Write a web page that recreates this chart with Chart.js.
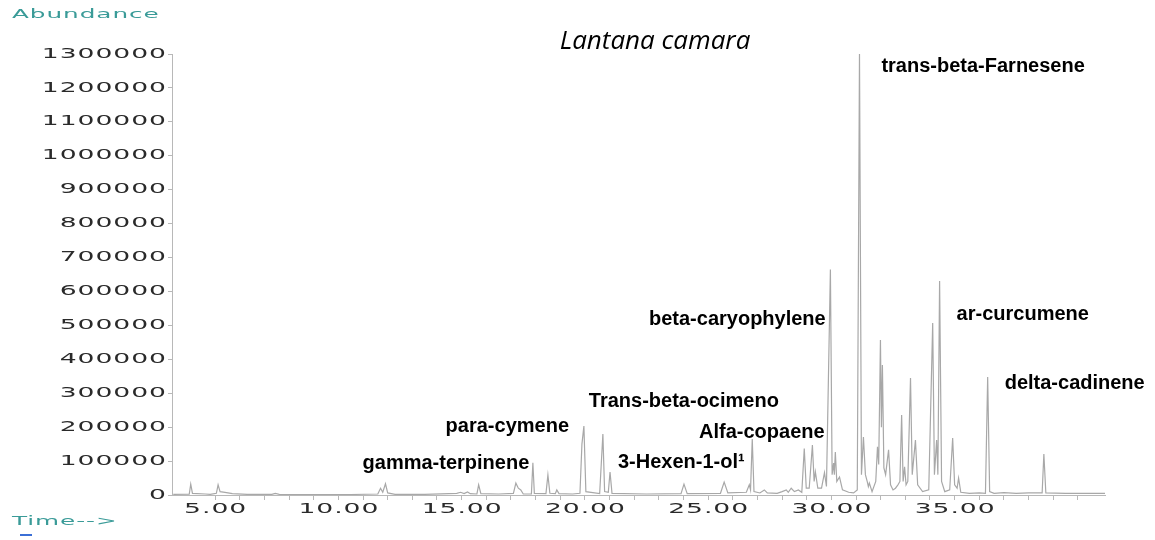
<!DOCTYPE html>
<html>
<head>
<meta charset="utf-8">
<script src="https://cdn.jsdelivr.net/npm/chart.js@4"></script>
<style>
  body { margin: 0; background: #fff; }
  canvas { display: block; }
</style>
</head>
<body>
<canvas id="tic" width="1155" height="540"></canvas>
<script>
// retention time (min) and abundance
const times = [3.3, 3.95, 4.01, 4.08, 4.6, 4.8, 5.05, 5.12, 5.2, 5.4, 5.7, 6.3, 7.3, 7.44, 7.6, 9.0, 10.5,
  11.6, 11.71, 11.8, 11.91, 12.0, 12.3, 13.5, 14.8, 14.96, 15.1, 15.24, 15.35, 15.62, 15.69, 15.78, 16.5,
  17.1, 17.2, 17.3, 17.4, 17.5, 17.83, 17.89, 17.95, 18.42, 18.5, 18.58, 18.8, 18.86, 18.95, 19.5, 19.8,
  19.88, 19.96, 20.04, 20.6, 20.73, 20.8, 20.95, 21.02, 21.1, 22.5, 23.9, 24.02, 24.15, 25.5, 25.65, 25.8,
  26.55, 26.67, 26.72, 26.79, 26.86, 27.1, 27.28, 27.4, 27.8, 28.0, 28.17, 28.25, 28.37, 28.5, 28.66, 28.8,
  28.9, 28.98, 29.1, 29.23, 29.3, 29.35, 29.45, 29.6, 29.72, 29.8, 29.96, 30.03, 30.09, 30.12, 30.16, 30.22,
  30.33, 30.45, 30.7, 30.9, 31.05, 31.14, 31.22, 31.3, 31.38, 31.46, 31.5, 31.54, 31.65, 31.8, 31.87, 31.92,
  31.99, 32.03, 32.07, 32.13, 32.2, 32.32, 32.4, 32.5, 32.6, 32.7, 32.78, 32.85, 32.91, 32.97, 33.03, 33.1,
  33.21, 33.28, 33.41, 33.5, 33.7, 33.95, 34.11, 34.18, 34.27, 34.32, 34.39, 34.47, 34.6, 34.8, 34.92, 35.0,
  35.1, 35.16, 35.25, 35.6, 36.0, 36.25, 36.34, 36.42, 36.6, 37.0, 37.5, 38.0, 38.55, 38.62, 38.7, 39.5,
  40.5, 41.1];
const abundance = [2000, 2500, 32000, 5000, 3000, 2000, 5000, 30000, 10000, 8000, 4000, 2000, 2000, 5000, 2000, 1500, 1500,
  3000, 20000, 8000, 33000, 6000, 2000, 2000, 5000, 8000, 4000, 9000, 4000, 3000, 30000, 4000, 3000,
  5000, 35000, 20000, 15000, 3000, 3000, 95000, 5000, 4000, 59000, 5000, 4000, 15000, 4000, 3000, 5000,
  150000, 203000, 10000, 4000, 180000, 10000, 8000, 68000, 5000, 3000, 4000, 32000, 4000, 5000, 38000, 6000,
  8000, 30000, 15000, 165000, 10000, 6000, 15000, 6000, 5000, 10000, 15000, 8000, 20000, 10000, 15000, 8000,
  137000, 20000, 20000, 147000, 40000, 68000, 20000, 20000, 66000, 25000, 665000, 60000, 94000, 60000, 127000, 40000,
  53000, 15000, 8000, 6000, 15000, 1300000, 60000, 171000, 60000, 38000, 25000, 35000, 10000, 40000, 142000, 90000,
  457000, 200000, 383000, 80000, 60000, 133000, 30000, 15000, 20000, 30000, 40000, 236000, 40000, 83000, 30000, 40000,
  345000, 60000, 162000, 30000, 10000, 15000, 507000, 60000, 162000, 60000, 631000, 40000, 10000, 15000, 168000, 30000,
  20000, 50000, 8000, 5000, 6000, 5000, 348000, 10000, 5000, 7000, 5000, 6000, 6000, 121000, 6000, 5000,
  5000, 5000];

const yTickLabels = ['0', '100000', '200000', '300000', '400000', '500000', '600000', '700000',
  '800000', '900000', '1000000', '1100000', '1200000', '1300000'];
const xTickValues = [5, 10, 15, 20, 25, 30, 35];
const xTickLabels = ['5.00', '10.00', '15.00', '20.00', '25.00', '30.00', '35.00'];

// compound names and where they sit (time, abundance)
const compoundNames = ['trans-beta-Farnesene', 'beta-caryophylene', 'ar-curcumene', 'delta-cadinene',
  'Trans-beta-ocimeno', 'para-cymene', 'Alfa-copaene', '3-Hexen-1-ol\u00b9', 'gamma-terpinene'];
const nameTimes = [32.03, 22.6, 35.08, 37.03, 20.16, 14.35, 24.63, 21.34, 10.98];
const nameAbund = [1264000, 516000, 533000, 330000, 277000, 203000, 183000, 97000, 94000];

// wide instrument-style lettering
function drawWide(ctx, text, x, y, align) {
  const sx = 1.9, sp = 0.5;
  ctx.letterSpacing = sp + 'px';
  const w = (ctx.measureText(text).width - sp) * sx;
  const left = align === 'right' ? x - w : align === 'center' ? x - w / 2 : x;
  ctx.save();
  ctx.translate(left, y);
  ctx.scale(sx, 1);
  ctx.textAlign = 'left';
  ctx.fillText(text, 0, 0);
  ctx.restore();
  ctx.letterSpacing = '0px';
}

const textPlugin = {
  id: 'textPlugin',
  afterDraw(chart) {
    const ctx = chart.ctx;
    const xs = chart.scales.x, ys = chart.scales.y;
    ctx.save();
    ctx.textBaseline = 'middle';
    ctx.font = '14px "DejaVu Sans"';
    ctx.fillStyle = '#2a2a2a';
    yTickLabels.forEach(l => drawWide(ctx, l, xs.left - 6, ys.getPixelForValue(Number(l)), 'right'));
    xTickValues.forEach((v, i) => drawWide(ctx, xTickLabels[i], xs.getPixelForValue(v), ys.bottom + 14, 'center'));

    ctx.font = '13px "DejaVu Sans"';
    ctx.fillStyle = '#3a9b98';
    drawWide(ctx, 'Abundance', 12, 15, 'left');
    drawWide(ctx, 'Time-->', 12, 522, 'left');
    ctx.fillStyle = '#3b6fd6';
    ctx.fillRect(20, 534, 12, 2);

    ctx.fillStyle = '#000';
    ctx.font = 'italic 26px "Open Sans"';
    ctx.textAlign = 'center';
    ctx.fillText('Lantana camara', 655, 42);

    ctx.font = 'bold 20px "Liberation Sans"';
    ctx.textAlign = 'left';
    compoundNames.forEach((n, i) => {
      ctx.fillText(n, xs.getPixelForValue(nameTimes[i]), ys.getPixelForValue(nameAbund[i]));
    });
    ctx.restore();
  }
};

new Chart(document.getElementById('tic').getContext('2d'), {
  type: 'line',
  data: {
    datasets: [{
      label: 'Abundance',
      data: times.map((t, i) => ({ x: t, y: abundance[i] })),
      borderColor: '#a8a8a8',
      borderWidth: 1.2,
      pointRadius: 0,
      tension: 0,
      fill: false
    }]
  },
  options: {
    responsive: false,
    animation: false,
    layout: { padding: { top: 54, right: 50, left: 0, bottom: 0 } },
    plugins: { legend: { display: false }, tooltip: { enabled: false } },
    scales: {
      x: {
        type: 'linear',
        min: 3.25,
        max: 41.1,
        ticks: { display: false, stepSize: 1 },
        afterBuildTicks: s => { s.ticks = s.ticks.filter(t => Number.isInteger(t.value)); },
        afterFit: s => { s.height = 45; },
        grid: { drawOnChartArea: false, drawTicks: true, tickLength: 5, color: '#b8b8b8' },
        border: { color: '#b8b8b8' }
      },
      y: {
        min: 0,
        max: 1300000,
        ticks: { display: false, stepSize: 100000 },
        afterFit: s => { s.width = 172; },
        grid: { drawOnChartArea: false, drawTicks: true, tickLength: 4, color: '#b8b8b8' },
        border: { color: '#b8b8b8' }
      }
    }
  },
  plugins: [textPlugin]
});
</script>
</body>
</html>
